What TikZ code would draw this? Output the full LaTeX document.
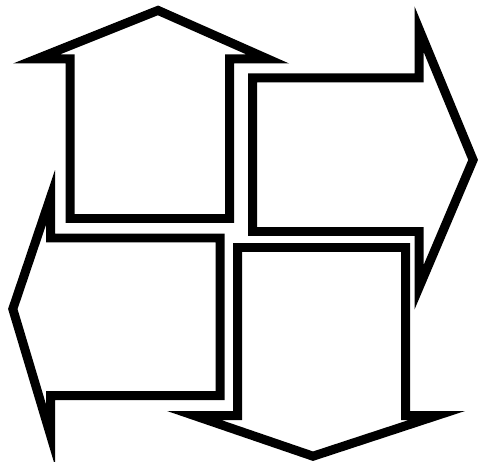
\documentclass[tikz,border=0pt]{standalone}
\usepackage{tikz}

\begin{document}
\begin{tikzpicture}[x=0.02cm, y=-0.02cm, flecha/.style={draw=black, line width=0.18cm, line join=miter, miter limit=12}]

        \useasboundingbox (0,0) rectangle (479,462);

        % Flecha hacia arriba
        \draw[flecha] (158,10.4) -- (267.8,59) -- (229.5,59) -- (229.5,218.5)
            -- (70,218.5) -- (70,59) -- (36.4,59) -- cycle;

        % Flecha hacia la derecha
        \draw[flecha] (473.1,159.9) -- (419,287.4) -- (419,231.5) -- (252.5,231.5)
            -- (252.5,78) -- (419,78) -- (419,29) -- cycle;

        % Flecha hacia la izquierda
        \draw[flecha] (12.8,309) -- (50.5,197.4) -- (50.5,238) -- (220,238)
            -- (220,395.5) -- (50.5,395.5) -- (50.5,435) -- cycle;

        % Flecha hacia abajo
        \draw[flecha] (313,456.2) -- (194.1,415.5) -- (237.5,415.5) -- (237.5,247.5)
            -- (405.5,247.5) -- (405.5,415.5) -- (436.9,415.5) -- cycle;

    \end{tikzpicture}
\end{document}
